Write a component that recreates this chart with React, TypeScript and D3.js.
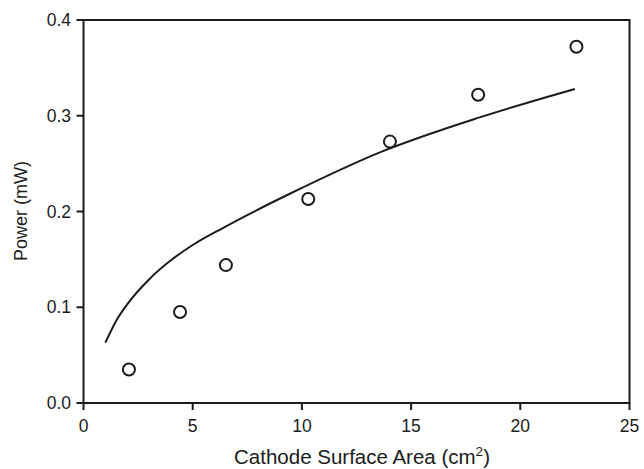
import React from 'react'
import * as d3 from 'd3'

// measured points
const areaCm2 = [2.08, 4.42, 6.52, 10.29, 14.03, 18.07, 22.57]
const powerMw = [0.035, 0.095, 0.144, 0.213, 0.273, 0.322, 0.372]

// fitted curve
const fitX = [1.0, 1.5, 2.0, 3.0, 4.0, 5.0, 6.4, 7.9, 9.4, 13.6, 18.1, 22.5]
const fitY = [0.063, 0.086, 0.103, 0.129, 0.149, 0.165, 0.183, 0.201, 0.218, 0.262, 0.298, 0.328]

const xTicks = [0, 5, 10, 15, 20, 25]
const yTicks = [0.0, 0.1, 0.2, 0.3, 0.4]

const W = 644
const H = 469
const ink = '#1c1c1c'
const font = '"Liberation Sans", Arial, sans-serif'

const App = () => {
  const x = d3.scaleLinear().domain([0, 25]).range([83.5, 629.5])
  const y = d3.scaleLinear().domain([0, 0.4]).range([403, 20])

  const fitLine = d3
    .line<number>()
    .x((d, i) => x(fitX[i]))
    .y((d) => y(d))
    .curve(d3.curveMonotoneX)

  return (
    <svg
      width={W}
      height={H}
      style={{ position: 'absolute', left: 0, top: 0, background: '#fff' }}
      fontFamily={font}
    >
      {/* frame */}
      <rect x={x(0)} y={y(0.4)} width={x(25) - x(0)} height={y(0) - y(0.4)}
        fill="none" stroke={ink} strokeWidth={2} />

      {/* x axis */}
      {xTicks.map((t) => (
        <g key={'x' + t}>
          <line x1={x(t)} x2={x(t)} y1={y(0)} y2={y(0) + 7} stroke={ink} strokeWidth={2} />
          <text x={x(t)} y={432} textAnchor="middle" fontSize={17.5} fill={ink}>{t}</text>
        </g>
      ))}

      {/* y axis */}
      {yTicks.map((t) => (
        <g key={'y' + t}>
          <line x1={x(0) - 7} x2={x(0)} y1={y(t)} y2={y(t)} stroke={ink} strokeWidth={2} />
          <text x={71} y={y(t)} dy="0.35em" textAnchor="end" fontSize={17.5} fill={ink}>
            {d3.format('.1f')(t)}
          </text>
        </g>
      ))}

      <text x={362} y={464} textAnchor="middle" fontSize={20.5} fill={ink}>
        Cathode Surface Area (cm<tspan dy={-8} fontSize={13.5}>2</tspan><tspan dy={8}>)</tspan>
      </text>
      <text transform="translate(27,211) rotate(-90)" textAnchor="middle" fontSize={18} fill={ink}>
        Power (mW)
      </text>

      <path d={fitLine(fitY) || ''} fill="none" stroke={ink} strokeWidth={2} />

      {areaCm2.map((a, i) => (
        <circle key={i} cx={x(a)} cy={y(powerMw[i])} r={6} fill="none" stroke={ink} strokeWidth={2} />
      ))}
    </svg>
  )
}

export default App
